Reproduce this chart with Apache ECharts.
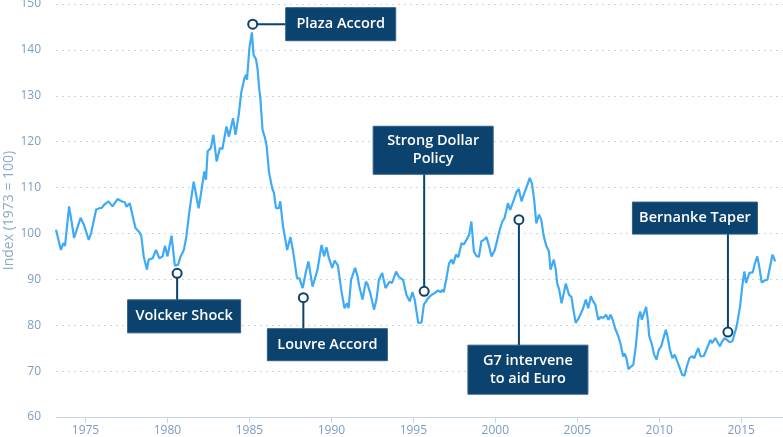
<!DOCTYPE html>
<html>
<head>
<meta charset="utf-8">
<script src="https://cdn.jsdelivr.net/npm/echarts@6/dist/echarts.min.js"></script>
<style>
  html, body { margin: 0; padding: 0; background: #fff; }
  #main { width: 783px; height: 437px; }
</style>
</head>
<body>
<div id="main"></div>
<script>
// dollar index (decimal year / index value)
var years = [
  1973.2, 1973.3, 1973.5, 1973.65, 1973.75, 1974.0, 1974.2, 1974.3, 1974.7, 1974.9,
  1975.2, 1975.35, 1975.45, 1975.65, 1975.85, 1976.0, 1976.15, 1976.4, 1976.65, 1976.95,
  1977.2, 1977.4, 1977.5, 1977.7, 1977.9, 1978.05, 1978.3, 1978.4, 1978.55, 1978.75,
  1978.85, 1979.1, 1979.3, 1979.5, 1979.7, 1979.85, 1980.0, 1980.25, 1980.45, 1980.65,
  1980.8, 1981.0, 1981.15, 1981.35, 1981.6, 1981.9, 1982.05, 1982.25, 1982.35, 1982.45,
  1982.65, 1982.8, 1983.0, 1983.2, 1983.35, 1983.6, 1983.75, 1984.0, 1984.15, 1984.35,
  1984.5, 1984.7, 1984.8, 1984.85, 1985.0, 1985.15, 1985.25, 1985.4, 1985.5, 1985.6,
  1985.65, 1985.8, 1985.95, 1986.05, 1986.2, 1986.4, 1986.5, 1986.62, 1986.8, 1986.88,
  1987.05, 1987.3, 1987.5, 1987.65, 1987.9, 1988.05, 1988.25, 1988.45, 1988.6, 1988.85,
  1989.15, 1989.25, 1989.4, 1989.55, 1989.7, 1989.85, 1990.05, 1990.2, 1990.4, 1990.6,
  1990.8, 1990.95, 1991.05, 1991.2, 1991.45, 1991.6, 1991.7, 1991.9, 1992.1, 1992.2,
  1992.4, 1992.6, 1992.75, 1992.9, 1993.1, 1993.3, 1993.55, 1993.7, 1993.95, 1994.1,
  1994.37, 1994.58, 1994.78, 1994.94, 1995.08, 1995.3, 1995.5, 1995.64, 1995.76, 1995.9,
  1996.1, 1996.3, 1996.5, 1996.65, 1996.77, 1996.85, 1997.0, 1997.18, 1997.33, 1997.43,
  1997.6, 1997.74, 1997.94, 1998.08, 1998.24, 1998.4, 1998.54, 1998.69, 1998.85, 1999.0,
  1999.15, 1999.3, 1999.46, 1999.62, 1999.77, 1999.97, 2000.1, 2000.27, 2000.43, 2000.57,
  2000.77, 2000.9, 2001.13, 2001.3, 2001.43, 2001.6, 2001.74, 2001.9, 2002.1, 2002.24,
  2002.37, 2002.5, 2002.67, 2002.8, 2002.96, 2003.12, 2003.27, 2003.37, 2003.57, 2003.69,
  2003.77, 2003.9, 2004.04, 2004.18, 2004.3, 2004.5, 2004.64, 2004.75, 2004.9, 2005.1,
  2005.2, 2005.36, 2005.52, 2005.67, 2005.83, 2005.97, 2006.1, 2006.28, 2006.42, 2006.6,
  2006.75, 2006.9, 2007.03, 2007.16, 2007.3, 2007.5, 2007.63, 2007.8, 2007.9, 2008.0,
  2008.12, 2008.28, 2008.42, 2008.57, 2008.73, 2008.84, 2008.94, 2009.2, 2009.3, 2009.39,
  2009.53, 2009.69, 2009.83, 2009.98, 2010.12, 2010.22, 2010.4, 2010.5, 2010.65, 2010.8,
  2010.94, 2011.1, 2011.25, 2011.4, 2011.54, 2011.68, 2011.84, 2012.0, 2012.13, 2012.38,
  2012.52, 2012.72, 2012.88, 2013.12, 2013.22, 2013.42, 2013.56, 2013.7, 2013.84, 2013.98,
  2014.14, 2014.29, 2014.46, 2014.72, 2014.93, 2015.09, 2015.19, 2015.3, 2015.5, 2015.7,
  2015.84, 2015.98, 2016.1, 2016.25, 2016.45, 2016.6, 2016.7, 2016.91, 2017.07
];
var indexValues = [
  100.8, 100.4, 96.4, 97.9, 97.3, 105.9, 101.5, 99.0, 103.4, 101.9,
  98.6, 100.2, 100.4, 105.2, 105.5, 105.6, 106.3, 107.0, 105.9, 107.5,
  107.0, 106.8, 105.8, 106.6, 103.4, 101.2, 100.2, 99.5, 95.0, 92.1,
  94.3, 94.6, 96.4, 94.6, 95.0, 97.3, 95.0, 99.5, 93.0, 93.2,
  95.0, 96.4, 99.3, 105.2, 111.3, 105.5, 108.8, 113.5, 111.7, 117.9,
  118.6, 121.5, 115.7, 118.6, 118.4, 123.3, 121.1, 125.1, 121.5, 125.9,
  130.7, 133.9, 134.6, 133.5, 140.4, 143.8, 138.9, 138.0, 135.7, 131.3,
  130.2, 122.6, 120.8, 119.0, 113.2, 109.7, 108.8, 105.5, 105.5, 107.0,
  101.5, 96.4, 99.2, 96.4, 90.3, 90.2, 88.1, 91.7, 93.9, 88.4,
  92.1, 92.3, 97.5, 95.0, 97.0, 94.6, 92.5, 94.1, 93.0, 87.7,
  83.7, 84.8, 83.7, 89.9, 92.5, 90.6, 88.5, 85.6, 89.5, 89.0,
  86.6, 83.4, 85.6, 89.9, 91.4, 88.1, 89.5, 89.2, 91.7, 90.6,
  89.9, 86.6, 85.2, 87.2, 85.6, 80.5, 80.6, 84.5, 84.3, 85.9,
  86.6, 87.0, 87.6, 87.2, 87.7, 87.2, 89.9, 93.5, 94.3, 93.3,
  95.4, 94.8, 97.9, 97.6, 98.6, 99.7, 102.6, 96.1, 95.1, 94.9,
  98.3, 98.6, 99.2, 97.2, 95.0, 96.4, 98.3, 100.8, 102.6, 103.4,
  106.6, 105.1, 107.3, 109.1, 109.7, 107.0, 108.5, 110.0, 112.1, 110.8,
  107.3, 102.2, 104.1, 103.0, 99.3, 97.2, 96.1, 92.1, 94.3, 92.1,
  89.2, 87.7, 84.8, 87.0, 89.1, 86.6, 86.2, 83.7, 80.5, 81.6,
  81.2, 83.7, 85.6, 83.7, 86.3, 85.2, 84.5, 81.2, 81.8, 81.6,
  82.3, 81.2, 82.3, 81.2, 79.4, 77.6, 76.1, 73.2, 73.8, 72.8,
  70.4, 71.0, 71.4, 75.4, 81.6, 83.0, 81.2, 84.0, 81.2, 77.6,
  76.1, 73.6, 72.5, 74.7, 75.4, 75.4, 79.0, 77.6, 74.7, 72.8,
  73.6, 72.1, 70.7, 69.2, 69.0, 71.0, 72.8, 73.3, 72.8, 75.0,
  73.2, 73.3, 74.7, 76.8, 76.1, 77.2, 76.3, 75.4, 76.5, 77.2,
  76.8, 76.3, 76.5, 79.7, 84.1, 89.2, 91.7, 89.2, 91.4, 91.5,
  93.5, 95.0, 92.8, 89.3, 89.8, 89.9, 91.7, 95.4, 93.9
];

var yearTicks = [1975, 1980, 1985, 1990, 1995, 2000, 2005, 2010, 2015];

// annotations: where the marker sits (year / index)
var noteLabels = ['Plaza Accord', 'Volcker Shock', 'Louvre Accord', 'Strong Dollar\nPolicy', 'G7 intervene\nto aid Euro', 'Bernanke Taper'];
var noteYears = [1985.2, 1980.59, 1988.29, 1995.66, 2001.44, 2014.19];
var noteValues = [145.6, 91.3, 86.0, 87.4, 103.0, 78.5];

// box layout relative to the marker, in pixels: [dx, dy, width, height]
var noteBoxes = [
  [88, 0, 110, 33],
  [7, 43, 113, 33],
  [24, 47, 120, 32],
  [9, -141, 120, 48],
  [9, 150, 120, 49],
  [-33, -114, 125, 32]
];

var navy = '#0b426e';
var labelColor = '#7f9dc0';

var chart = echarts.init(document.getElementById('main'));

var option = {
  animation: false,
  grid: { left: 56, right: 0, top: 4, bottom: 20, containLabel: false, outerBoundsMode: 'none' },
  xAxis: {
    type: 'value',
    min: 1973.2,
    max: 2017.55,
    splitLine: { show: false },
    axisLine: { show: true, lineStyle: { color: '#c9d7ea', width: 1 } },
    axisTick: { show: true, customValues: yearTicks, length: 6, lineStyle: { color: '#c9d7ea' } },
    axisLabel: {
      customValues: yearTicks,
      formatter: function (v) { return String(v); },
      color: labelColor,
      fontFamily: 'Open Sans',
      fontSize: 12,
      margin: 8
    }
  },
  yAxis: {
    type: 'value',
    min: 60,
    max: 150,
    interval: 10,
    name: 'Index (1973 = 100)',
    nameLocation: 'middle',
    nameGap: 40,
    nameMoveOverlap: false,
    nameTextStyle: { color: '#8fa9c6', fontFamily: 'Open Sans', fontSize: 14 },
    axisLine: { show: false },
    axisTick: { show: false },
    axisLabel: { color: labelColor, fontFamily: 'Open Sans', fontSize: 12, margin: 15 },
    splitLine: { lineStyle: { color: '#c5d7ec', type: [2, 4], width: 1 } }
  },
  series: [
    {
      type: 'line',
      data: years.map(function (y, i) { return [y, indexValues[i]]; }),
      showSymbol: false,
      lineStyle: { color: '#3faaf6', width: 2.2 },
      z: 2
    },
    {
      type: 'scatter',
      data: noteYears.map(function (y, i) { return [y, noteValues[i]]; }),
      symbol: 'circle',
      symbolSize: 9,
      itemStyle: { color: '#fff', borderColor: navy, borderWidth: 2, opacity: 1 },
      z: 6,
      silent: true
    }
  ]
};

chart.setOption(option);

// leader lines and label boxes, placed from the marker positions
var graphics = [];
noteLabels.forEach(function (text, i) {
  var p = chart.convertToPixel({ gridIndex: 0 }, [noteYears[i], noteValues[i]]);
  var b = noteBoxes[i];
  var cx = p[0] + b[0], cy = p[1] + b[1], w = b[2], h = b[3];
  var end;
  if (b[1] === 0) end = [cx - w / 2, p[1]];
  else if (b[1] > 0) end = [p[0], cy - h / 2];
  else end = [p[0], cy + h / 2];
  graphics.push({
    type: 'line',
    shape: { x1: p[0], y1: p[1], x2: end[0], y2: end[1] },
    style: { stroke: navy, lineWidth: 2 },
    z: 3
  });
  graphics.push({
    type: 'group',
    x: cx, y: cy, z: 10,
    children: [
      {
        type: 'rect',
        shape: { x: -w / 2, y: -h / 2, width: w, height: h },
        style: { fill: navy, stroke: '#2d5d88', lineWidth: 1 },
        z: 10
      },
      {
        type: 'text',
        style: {
          text: text,
          x: 0, y: 0,
          align: 'center',
          verticalAlign: 'middle',
          fill: '#fff',
          font: '600 14.5px "Open Sans"',
          lineHeight: 18
        },
        z: 11
      }
    ]
  });
});

chart.setOption({ graphic: graphics });
</script>
</body>
</html>
